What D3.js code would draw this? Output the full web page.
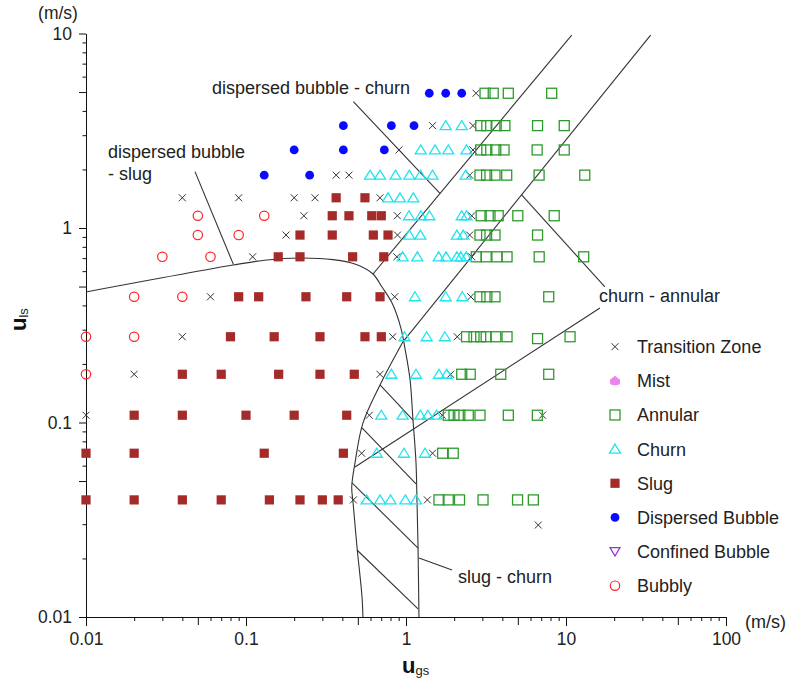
<!DOCTYPE html>
<html><head><meta charset="utf-8">
<script src="https://cdn.jsdelivr.net/npm/d3@7"></script>
<style>
body{margin:0;background:#fff}
svg text{font-family:"Liberation Sans",Arial,sans-serif;fill:#222}
</style>
</head><body>
<svg id="chart" width="788" height="684"></svg>
<script>
// ---- tick values ----
const xTickValues = [0.01, 0.1, 1, 10, 100];
const yTickValues = [0.01, 0.1, 1, 10];
const xTickLabels = ["0.01", "0.1", "1", "10", "100"];
const yTickLabels = ["0.01", "0.1", "1", "10"];

// ---- observations [u_gs, u_ls] (m/s) ----
const transitionZone = [
  [2.74,4.93],
  [1.465,3.36],[2.62,3.36],
  [0.904,2.52],[2.62,2.52],
  [0.366,1.87],[0.44,1.87],[2.5,1.87],
  [0.04,1.43],[0.09,1.43],[0.2,1.43],[0.27,1.43],[0.688,1.43],
  [0.23,1.156],[0.883,1.156],[2.575,1.156],
  [0.178,0.92],[0.885,0.92],[2.5,0.92],
  [0.11,0.711],[0.877,0.711],[2.575,0.711],
  [0.06,0.443],[0.85,0.443],[2.54,0.443],
  [0.04,0.276],[0.826,0.276],[2.09,0.276],
  [0.02,0.177],[0.688,0.177],[1.9,0.177],
  [0.01,0.109],[0.59,0.109],[1.686,0.109],[7.13,0.109],
  [0.528,0.0695],[1.465,0.0695],
  [0.469,0.04],[1.36,0.04],
  [6.71,0.0297]
];
const mist = [];
const annular = [
  [3.12,4.93],[3.51,4.93],[4.36,4.93],[8.14,4.93],
  [2.93,3.36],[3.2,3.36],[3.66,3.36],[4.15,3.36],[6.64,3.36],[9.75,3.36],
  [2.93,2.52],[3.2,2.52],[3.64,2.52],[4.1,2.52],[6.6,2.52],[9.75,2.52],
  [2.9,1.87],[3.19,1.87],[3.6,1.87],[4.26,1.87],[6.79,1.87],[13.1,1.87],
  [2.95,1.156],[3.35,1.156],[3.77,1.156],[5.0,1.156],[8.44,1.156],
  [2.9,0.92],[3.19,0.92],[3.6,0.92],[6.64,0.92],
  [2.75,0.711],[3.17,0.711],[3.7,0.711],[4.28,0.711],[6.8,0.711],[12.9,0.711],
  [2.9,0.443],[3.2,0.443],[3.6,0.443],[7.8,0.443],
  [2.39,0.276],[2.66,0.276],[2.93,0.276],[3.17,0.276],[3.64,0.276],[4.28,0.276],[6.64,0.27],[10.6,0.276],
  [2.23,0.177],[2.52,0.177],[3.91,0.177],[7.8,0.177],
  [1.837,0.109],[1.995,0.109],[2.17,0.109],[2.45,0.109],[2.9,0.109],[4.36,0.109],[6.62,0.109],
  [1.694,0.0695],[1.973,0.0695],
  [1.607,0.04],[1.837,0.04],[2.16,0.04],[3.03,0.04],[4.98,0.04],[6.25,0.04]
];
const churn = [
  [1.771,3.36],[2.23,3.36],
  [1.236,2.52],[1.518,2.52],[1.837,2.52],[2.39,2.52],
  [0.596,1.87],[0.688,1.87],[0.86,1.87],[1.049,1.87],[1.23,1.87],[1.465,1.87],[2.36,1.87],
  [0.772,1.43],[0.917,1.43],[1.11,1.43],
  [1.044,1.156],[1.24,1.156],[1.4,1.156],[2.23,1.156],[2.39,1.156],
  [1.049,0.92],[1.23,0.92],[2.08,0.92],[2.28,0.92],
  [0.953,0.711],[1.177,0.711],[1.6,0.711],[1.78,0.711],[2.08,0.711],[2.2,0.711],[2.38,0.711],
  [1.138,0.443],[1.771,0.443],[2.25,0.443],
  [0.98,0.276],[1.346,0.276],[1.75,0.276],
  [0.81,0.177],[1.155,0.177],[1.607,0.177],[1.796,0.177],
  [0.701,0.109],[0.953,0.109],[1.23,0.109],[1.37,0.109],[1.55,0.109],
  [0.656,0.0695],[0.972,0.0695],[1.314,0.0695],
  [0.568,0.04],[0.688,0.04],[0.8,0.04],[0.99,0.04],[1.155,0.04]
];
const slug = [
  [0.366,1.43],[0.554,1.43],
  [0.346,1.156],[0.44,1.156],[0.611,1.156],[0.701,1.156],
  [0.2175,0.92],[0.346,0.92],[0.625,0.92],[0.772,0.92],
  [0.159,0.711],[0.2175,0.711],[0.464,0.711],[0.726,0.711],
  [0.09,0.443],[0.12,0.443],[0.237,0.443],[0.426,0.443],[0.688,0.443],
  [0.08,0.276],[0.15,0.276],[0.29,0.276],[0.554,0.276],[0.701,0.276],
  [0.04,0.177],[0.07,0.177],[0.16,0.177],[0.29,0.177],[0.475,0.177],
  [0.02,0.109],[0.04,0.109],[0.1,0.109],[0.2,0.109],[0.426,0.109],
  [0.01,0.0695],[0.02,0.0695],[0.13,0.0695],[0.406,0.0695],
  [0.01,0.04],[0.02,0.04],[0.04,0.04],[0.07,0.04],[0.14,0.04],[0.2175,0.04],[0.3,0.04],[0.377,0.04]
];
const dispersedBubble = [
  [1.398,4.93],[1.771,4.93],[2.23,4.93],
  [0.406,3.36],[0.81,3.36],[1.122,3.36],
  [0.2,2.52],[0.406,2.52],[0.732,2.52],
  [0.13,1.87],[0.25,1.87]
];
const confinedBubble = [];
const bubbly = [
  [0.05,1.156],[0.13,1.156],
  [0.05,0.92],[0.09,0.92],
  [0.03,0.711],[0.06,0.711],
  [0.02,0.443],[0.04,0.443],
  [0.01,0.276],[0.02,0.276],
  [0.01,0.177]
];

// ---- transition boundaries [u_gs, u_ls] ----
const bubbleSlugBoundary = [
  [0.01,0.469],[0.083,0.645],[0.135,0.685],[0.2175,0.701],[0.35,0.688],[0.494,0.648],
  [0.622,0.58],[0.708,0.497],[0.818,0.411],[0.93,0.305],[0.99,0.235],[1.06,0.166],
  [1.106,0.103],[1.155,0.062],[1.172,0.0386],[1.189,0.0229],[1.205,0.01]
];
const slugChurnLeftCurve = [
  [0.538,0.01],[0.531,0.0127],[0.494,0.0229],[0.467,0.0386],[0.458,0.0466],
  [0.48,0.062],[0.538,0.0993],[0.688,0.156],[0.957,0.26]
];
const straightLines = [
  [[0.957,0.26],[33.8,9.82]],      // churn - annular (upper)
  [[0.622,0.58],[10.86,9.82]],     // dispersed bubble / slug - churn
  [[0.48,0.059],[16.3,0.388]],     // churn - annular (lower)
  [[5.28,1.48],[17.5,0.498]],      // leader: churn - annular
  [[0.469,4.46],[1.63,1.507]],     // leader: dispersed bubble - churn
  [[0.048,1.95],[0.0834,0.65]],    // leader: dispersed bubble - slug
  [[1.205,0.0201],[1.94,0.01746]], // leader: slug - churn
  [[0.688,0.156],[1.106,0.103]],   // hatching
  [[0.531,0.0938],[1.155,0.0483]],
  [[0.46,0.0489],[1.189,0.0226]],
  [[0.494,0.0221],[1.189,0.011]]
];

const legendNames = ["Transition Zone","Mist","Annular","Churn","Slug","Dispersed Bubble","Confined Bubble","Bubbly"];

// ---- drawing ----
const svg = d3.select("#chart");
const x = d3.scaleLog().domain([0.01, 100]).range([86, 726]);
const y = d3.scaleLog().domain([0.01, 10]).range([617, 33.5]);

const halfX = [0.05, 0.5, 5, 50], halfY = [0.05, 0.5, 5];
const minorX = [], minorY = [];
for (let e = -2; e < 2; e++) for (let k = 2; k <= 9; k++) if (k !== 5) minorX.push(+(k * Math.pow(10, e)).toPrecision(3));
for (let e = -2; e < 1; e++) for (let k = 2; k <= 9; k++) if (k !== 5) minorY.push(+(k * Math.pow(10, e)).toPrecision(3));

function styleAxis(g) {
  g.selectAll("path,line").attr("stroke", "#111").attr("stroke-width", 1);
  g.selectAll("text").attr("font-size", 17.5).attr("font-family", '"Liberation Sans",Arial,sans-serif').attr("fill", "#222");
}
// x axis
const gx = svg.append("g").attr("transform", "translate(0,617)");
gx.call(d3.axisBottom(x).tickValues(xTickValues).tickSize(9).tickSizeOuter(0)
  .tickFormat((d, i) => xTickLabels[i]));
gx.selectAll("text").attr("y", 16);
styleAxis(gx);
const gx2 = svg.append("g").attr("transform", "translate(0,617)")
  .call(d3.axisBottom(x).tickValues(halfX).tickSize(8).tickFormat(""));
gx2.select(".domain").remove(); styleAxis(gx2);
const gx3 = svg.append("g").attr("transform", "translate(0,617)")
  .call(d3.axisBottom(x).tickValues(minorX).tickSize(4).tickFormat(""));
gx3.select(".domain").remove(); styleAxis(gx3);

// y axis
const gy = svg.append("g").attr("transform", "translate(86,0)");
gy.call(d3.axisLeft(y).tickValues(yTickValues).tickSize(7).tickSizeOuter(0)
  .tickFormat((d, i) => yTickLabels[i]));
gy.selectAll("text").attr("x", -14);
styleAxis(gy);
const gy2 = svg.append("g").attr("transform", "translate(86,0)")
  .call(d3.axisLeft(y).tickValues(halfY).tickSize(7).tickFormat(""));
gy2.select(".domain").remove(); styleAxis(gy2);
const gy3 = svg.append("g").attr("transform", "translate(86,0)")
  .call(d3.axisLeft(y).tickValues(minorY).tickSize(3.5).tickFormat(""));
gy3.select(".domain").remove(); styleAxis(gy3);

// units & axis titles
svg.append("text").attr("x", 58).attr("y", 19).attr("text-anchor", "middle").attr("font-size", 17.5).text("(m/s)");
svg.append("text").attr("x", 745).attr("y", 628).attr("font-size", 18).text("(m/s)");
const xl = svg.append("text").attr("x", 402).attr("y", 673);
xl.append("tspan").attr("font-weight", "bold").attr("font-size", 22).style("fill", "#111").text("u");
xl.append("tspan").attr("font-size", 13).attr("dy", 2).text("gs");
const yl = svg.append("text").attr("transform", "translate(26,331) rotate(-90)");
yl.append("tspan").attr("font-weight", "bold").attr("font-size", 22).style("fill", "#111").text("u");
yl.append("tspan").attr("font-size", 13).attr("dy", 2).text("ls");

// boundary lines
const lineGen = d3.line().x(d => x(d[0])).y(d => y(d[1]));
const curveGen = d3.line().x(d => x(d[0])).y(d => y(d[1])).curve(d3.curveCatmullRom.alpha(0.5));
const lines = svg.append("g").attr("fill", "none").attr("stroke", "#333").attr("stroke-width", 1.1);
lines.append("path").attr("d", curveGen(bubbleSlugBoundary));
lines.append("path").attr("d", curveGen(slugChurnLeftCurve));
straightLines.forEach(s => lines.append("path").attr("d", lineGen(s)));

// annotations
const ann = svg.append("g").attr("font-size", 18);
ann.append("text").attr("x", 212).attr("y", 94).text("dispersed bubble - churn");
ann.append("text").attr("x", 108).attr("y", 158).text("dispersed bubble");
ann.append("text").attr("x", 108).attr("y", 180).text("- slug");
ann.append("text").attr("x", 599).attr("y", 302).text("churn - annular");
ann.append("text").attr("x", 458).attr("y", 583).text("slug - churn");

// marker painters
const painters = {
  "Transition Zone": g => g.append("path").attr("d", "M-3.5,-3.5L3.5,3.5M-3.5,3.5L3.5,-3.5").attr("stroke", "#333").attr("stroke-width", 1),
  "Mist": g => g.append("path").attr("d", "M0,-5L5,-1L5,2Q5,4.5 0,4.5Q-5,4.5 -5,2L-5,-1Z").attr("fill", "#ee82ee"),
  "Annular": g => g.append("rect").attr("x", -5).attr("y", -5).attr("width", 10).attr("height", 10).attr("fill", "none").attr("stroke", "#2e9a2e").attr("stroke-width", 1.3),
  "Churn": g => g.append("path").attr("d", "M0,-5L5.5,4L-5.5,4Z").attr("fill", "none").attr("stroke", "#20e4f0").attr("stroke-width", 1.3),
  "Slug": g => g.append("rect").attr("x", -4.6).attr("y", -4.6).attr("width", 9.2).attr("height", 9.2).attr("fill", "#a52a2a"),
  "Dispersed Bubble": g => g.append("circle").attr("r", 4.4).attr("fill", "#0a0aff"),
  "Confined Bubble": g => g.append("path").attr("d", "M0,4.5L5,-4L-5,-4Z").attr("fill", "none").attr("stroke", "#9933dd").attr("stroke-width", 1.3),
  "Bubbly": g => g.append("circle").attr("r", 4.7).attr("fill", "none").attr("stroke", "#ff2424").attr("stroke-width", 1.2)
};
const seriesData = {
  "Transition Zone": transitionZone, "Mist": mist, "Annular": annular, "Churn": churn,
  "Slug": slug, "Dispersed Bubble": dispersedBubble, "Confined Bubble": confinedBubble, "Bubbly": bubbly
};
legendNames.forEach(name => {
  svg.append("g").selectAll("g").data(seriesData[name]).join("g")
    .attr("transform", d => `translate(${x(d[0])},${y(d[1])})`)
    .each(function () { painters[name](d3.select(this)); });
});

// legend
const leg = svg.append("g");
legendNames.forEach((name, i) => {
  const yy = 346.7 + i * 34.14;
  const g = leg.append("g").attr("transform", `translate(615,${yy})`);
  painters[name](g);
  leg.append("text").attr("x", 637).attr("y", yy + 6.5).attr("font-size", 18).text(name);
});
</script>
</body></html>
